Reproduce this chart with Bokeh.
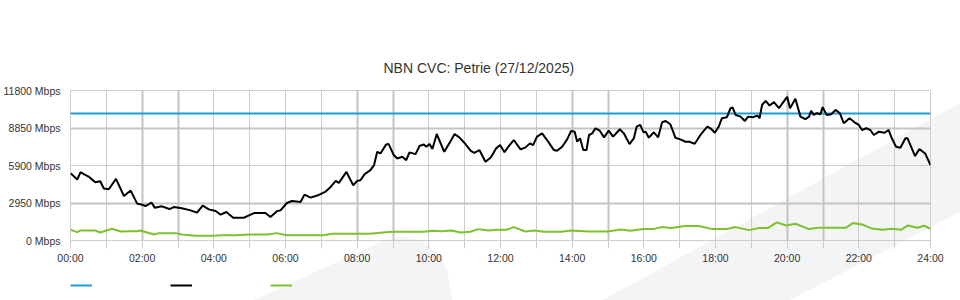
from bokeh.plotting import figure
from bokeh.layouts import column
from bokeh.models import (FixedTicker, Grid, Legend, LegendItem, Title, InlineStyleSheet)
from bokeh.embed import file_html
from bokeh.resources import INLINE

# ---------------- data (hours since midnight, Mbps) ----------------
used_t = [0, 0.19, 0.28, 0.37, 0.52, 0.69, 0.83, 0.93, 1.07, 1.27, 1.49, 1.68, 1.86, 2.0, 2.09,
          2.26, 2.35, 2.55, 2.76, 2.88, 3.11, 3.35, 3.53, 3.69, 3.86, 4.05, 4.19, 4.35, 4.54, 4.84,
          4.98, 5.12, 5.44, 5.58, 5.77, 5.86, 6.04, 6.18, 6.42, 6.53, 6.7, 6.93, 7.12, 7.26, 7.4,
          7.49, 7.7, 7.89, 8.0, 8.09, 8.21, 8.37, 8.47, 8.56, 8.65, 8.81, 8.88, 9.02, 9.12, 9.26,
          9.37, 9.46, 9.63, 9.74, 9.86, 9.93, 10.02, 10.1, 10.22, 10.43, 10.57, 10.72, 10.85, 10.99,
          11.17, 11.27, 11.41, 11.58, 11.73, 11.88, 11.99, 12.11, 12.23, 12.37, 12.56, 12.7, 12.82,
          12.91, 13.02, 13.16, 13.3, 13.49, 13.58, 13.72, 13.86, 13.97, 14.07, 14.14, 14.22, 14.31,
          14.4, 14.47, 14.56, 14.65, 14.77, 14.89, 15.02, 15.14, 15.21, 15.33, 15.44, 15.6, 15.72,
          15.8, 15.9, 15.99, 16.05, 16.14, 16.28, 16.4, 16.51, 16.61, 16.74, 16.88, 17.02, 17.16,
          17.27, 17.42, 17.58, 17.77, 17.86, 17.98, 18.09, 18.18, 18.32, 18.42, 18.48, 18.56, 18.7,
          18.82, 18.91, 19.04, 19.17, 19.23, 19.3, 19.4, 19.51, 19.63, 19.77, 20.0, 20.08, 20.23,
          20.37, 20.51, 20.61, 20.67, 20.74, 20.83, 20.93, 20.99, 21.1, 21.23, 21.35, 21.47, 21.58,
          21.74, 21.88, 22.0, 22.09, 22.21, 22.32, 22.42, 22.56, 22.72, 22.83, 22.92, 23.04, 23.16,
          23.3, 23.36, 23.57, 23.69, 23.85, 24.0]
used_mbps = [5300, 4800, 5375, 5217, 5003, 4584, 4663, 4086, 4031, 4845, 3502, 3928, 2900, 2820, 2711,
             2980, 2584, 2687, 2474, 2632, 2530, 2371, 2190, 2742, 2450, 2318, 2030, 2240, 1792, 1792,
             1976, 2160, 2160, 1845, 2318, 2371, 2950, 3110, 3030, 3610, 3373, 3583, 3847, 4213, 4690,
             4530, 5400, 4347, 4690, 4742, 5217, 5533, 5928, 6980, 6850, 7560, 7588, 6718, 6455, 6585,
             6323, 6930, 6797, 7430, 7560, 7375, 7588, 7193, 8378, 6980, 7640, 8378, 8115, 7690,
             7058, 6900, 7114, 6190, 6534, 7248, 7509, 6950, 7430, 7904, 7167, 7325, 7640,
             7509, 8167, 8430, 7904, 7114, 7058, 7375, 7957, 8615, 8560, 7770, 8038, 7114,
             7114, 8300, 8430, 8828, 8640, 8115, 8640, 8167, 8378, 8750, 8430, 7588, 8038,
             8955, 9090, 8512, 8560, 8088, 8512, 8115, 9300, 9405, 9145, 8088, 7957, 7770,
             7770, 7613, 8300, 8955, 8828, 8480, 8955, 9620, 9698, 10410, 10460, 9880, 9745,
             9405, 9745, 9698, 9825, 9620, 10670, 10987, 10617, 10884, 10410, 11300, 10410, 11145,
             9745, 9540, 9745, 10196, 9880, 10012, 9935, 10490, 9880, 9935, 10275, 10012, 9224,
             9620, 9300, 9090, 8695, 8828, 8695, 8300, 8560, 8480, 8695, 8038, 7375, 7298,
             8038, 8038, 6640, 7193, 6850, 5928]

other_t = [0, 0.19, 0.28, 0.69, 0.83, 1.16, 1.4, 1.63, 1.86, 1.95, 2.33, 2.47, 2.93, 3.11, 3.49,
           4.0, 4.2, 4.6, 5.0, 5.5, 5.76, 6.02, 7.05, 7.31, 8.33, 8.97, 9.87, 10.12, 10.38, 10.63,
           10.89, 11.15, 11.38, 11.66, 11.92, 12.17, 12.37, 12.69, 12.95, 13.2, 13.7, 13.96, 14.47,
           14.98, 15.36, 15.62, 16.0, 16.25, 16.5, 16.76, 17.15, 17.53, 17.92, 18.3, 18.56, 18.94,
           19.2, 19.46, 19.71, 19.97, 20.23, 20.61, 20.87, 21.64, 21.83, 22.09, 22.35, 22.67, 22.92,
           23.18, 23.37, 23.63, 23.82, 24.0]
other_mbps = [845, 656, 790, 790, 632, 924, 711, 735, 735, 790, 474, 580, 580, 474, 369,
              369, 420, 420, 474, 474, 580, 420, 420, 527, 527, 685, 685, 764, 737, 790,
              632, 685, 895, 790, 843, 843, 1054, 711, 790, 685, 685, 790, 711,
              711, 870, 764, 896, 896, 1054, 975, 1133, 1133, 896, 896, 1054, 817,
              975, 975, 1423, 1185, 1318, 896, 1000, 1000, 1370, 1265, 948, 843, 922,
              843, 1185, 1000, 1160, 922]

capacity_t = [0, 24]
capacity_mbps = [10000, 10000]

series_colors = ["#1b9dd9", "#000000", "#7dc22b"]

y_ticks = [0, 2950, 5900, 8850, 11800]
y_tick_labels = ["0 Mbps", "2950 Mbps", "5900 Mbps", "8850 Mbps", "11800 Mbps"]
x_hours = list(range(0, 25))
x_tick_labels = {h: ("%02d:00" % h if h % 2 == 0 else "") for h in x_hours}
title_text = "NBN CVC: Petrie (27/12/2025)"

# faint diagonal watermark behind the whole chart (page decoration, CSS background)
wm_svg = ("<svg xmlns='http://www.w3.org/2000/svg' width='960' height='300'>"
          "<polygon points='254,300 385,240 400,237 420,240 440,255 447,270 452,300' fill='%23f3f4f6'/>"
          "<polygon points='603,300 960,103 960,212 790,300' fill='%23f3f4f6'/>"
          "</svg>")

def wm_css(offset_y):
    return (':host { background-color: white; '
            'background-image: url("data:image/svg+xml;utf8,%s"); '
            'background-repeat: no-repeat; background-position: 0px %dpx; }' % (wm_svg, -offset_y))

# ---------------- main chart ----------------
p = figure(width=960, height=270, x_range=(0, 24), y_range=(0, 11800),
           output_backend="svg", toolbar_location=None,
           min_border_left=70, min_border_right=30, min_border_top=90, min_border_bottom=30,
           background_fill_color=None, border_fill_color=None)
p.stylesheets = [InlineStyleSheet(css=wm_css(0))]
p.title = Title(text=title_text, align="left", offset=313, standoff=30,
                text_font="Liberation Sans", text_font_size="14px",
                text_font_style="normal", text_color="#333333")
p.outline_line_color = "#cccccc"

xa = p.xaxis[0]
xa.ticker = FixedTicker(ticks=x_hours)
xa.major_label_overrides = x_tick_labels
xa.axis_line_color = None
xa.major_tick_out = 8
xa.major_tick_in = 0
xa.major_tick_line_color = "#cccccc"
xa.minor_tick_line_color = None
xa.major_label_standoff = 3
xa.major_label_text_font = "Liberation Sans"
xa.major_label_text_font_size = "10.5px"
xa.major_label_text_color = "#333333"

ya = p.yaxis[0]
ya.ticker = FixedTicker(ticks=y_ticks)
ya.major_label_overrides = dict(zip(y_ticks, y_tick_labels))
ya.axis_line_color = None
ya.major_tick_out = 0
ya.major_tick_in = 0
ya.major_tick_line_color = None
ya.minor_tick_line_color = None
ya.major_label_standoff = 10
ya.major_label_text_font = "Liberation Sans"
ya.major_label_text_font_size = "10.5px"
ya.major_label_text_color = "#333333"

p.xgrid.ticker = FixedTicker(ticks=x_hours)
p.xgrid.grid_line_color = "#cccccc"
p.ygrid.ticker = FixedTicker(ticks=y_ticks)
p.ygrid.grid_line_color = "#cccccc"
p.add_layout(Grid(dimension=0, ticker=FixedTicker(ticks=[2, 3, 8, 9, 14, 15, 20, 21]),
                  grid_line_color="#c4c4c4", grid_line_width=2))
p.add_layout(Grid(dimension=1, ticker=FixedTicker(ticks=[2950, 8850]),
                  grid_line_color="#c4c4c4", grid_line_width=2))

series = [(capacity_t, capacity_mbps), (used_t, used_mbps), (other_t, other_mbps)]
for (t, v), c in zip(series, series_colors):
    p.line(t, v, line_color=c, line_width=2)

# ---------------- legend strip (label-less legend, as in the source) ----------------
leg = figure(width=960, height=30, x_range=(0, 1), y_range=(-1, 0),
             output_backend="svg", toolbar_location=None,
             x_axis_type=None, y_axis_type=None,
             min_border_left=0, min_border_right=0, min_border_top=0, min_border_bottom=0,
             background_fill_color=None, border_fill_color=None, outline_line_color=None)
leg.stylesheets = [InlineStyleSheet(css=wm_css(270))]
leg.grid.visible = False
# key renderers carry the same series (they sit outside this strip's visible range)
keys = [leg.line(t, v, line_color=c, line_width=2) for (t, v), c in zip(series, series_colors)]
legend = Legend(items=[LegendItem(label=" ", renderers=[r]) for r in keys],
                orientation="horizontal", location=(0, 10),
                glyph_width=22, glyph_height=10, label_width=78, label_height=10,
                label_standoff=0, spacing=0, padding=0, margin=0,
                label_text_font_size="8px",
                border_line_color=None, background_fill_alpha=0)
leg.add_layout(legend, "center")

layout = column(p, leg, spacing=0)

open("out.html", "w").write(file_html(layout, INLINE))
